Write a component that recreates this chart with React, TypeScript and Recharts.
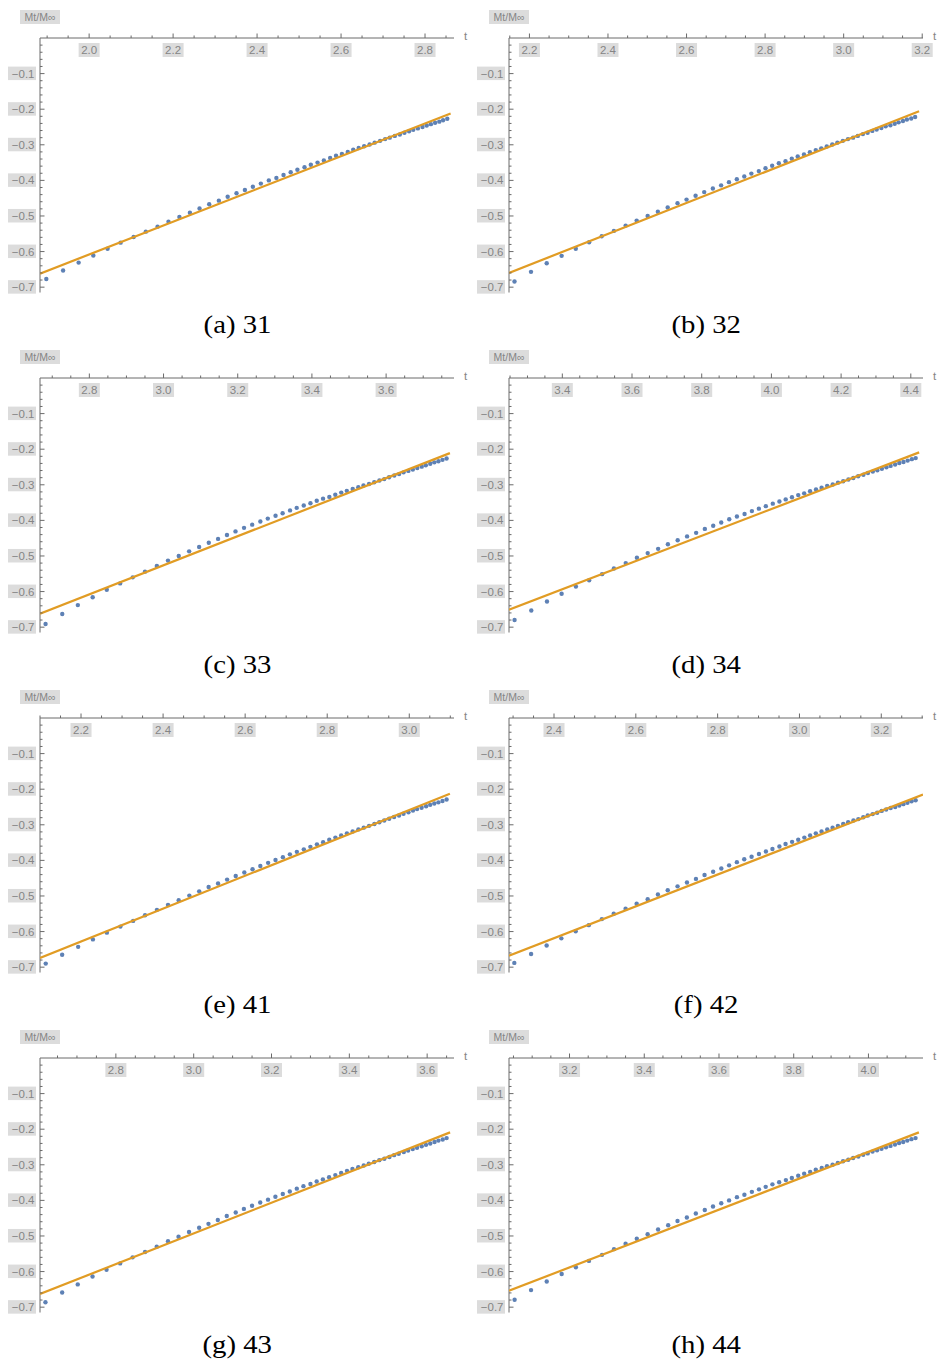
import React from 'react';
import { ComposedChart, Scatter, XAxis, YAxis } from 'recharts';

// Palette (Mathematica-style default series colours)
const DOT_COLOR = '#5E81B5';
const FIT_COLOR = '#E19C24';
const AXIS_COLOR = '#6a6a6a';
const LABEL_COLOR = '#858585';
const LABEL_BG = '#dcdcdc';
const SANS = '"Liberation Sans", Arial, sans-serif';
const SERIF = '"Liberation Serif", "Times New Roman", serif';

const W = 470;
const H = 340;
// axis boxes are 1px thick, so the axis lines land at x = 40, y = 38
const MARGIN = { top: 37, left: 39, right: 16, bottom: 47.5 };

const yDomain: [number, number] = [-0.715, 0];
const yMajor = [-0.1, -0.2, -0.3, -0.4, -0.5, -0.6, -0.7];

// ---- (a) 31 ----
const tA = [1.898, 1.938, 1.975, 2.010, 2.044, 2.075, 2.106, 2.135, 2.163, 2.189,
  2.215, 2.240, 2.263, 2.286, 2.309, 2.330, 2.351, 2.371, 2.390, 2.409,
  2.428, 2.446, 2.463, 2.480, 2.496, 2.513, 2.528, 2.544, 2.559, 2.574,
  2.588, 2.602, 2.616, 2.629, 2.642, 2.655, 2.668, 2.680, 2.693, 2.705,
  2.716, 2.728, 2.740, 2.751, 2.762, 2.772, 2.783, 2.794, 2.804, 2.814,
  2.824, 2.834, 2.843, 2.853];
const yA = [-0.677, -0.653, -0.631, -0.611, -0.592, -0.575, -0.559, -0.544, -0.530, -0.516,
  -0.503, -0.491, -0.479, -0.467, -0.457, -0.446, -0.436, -0.427, -0.418, -0.409,
  -0.400, -0.393, -0.385, -0.377, -0.370, -0.363, -0.356, -0.350, -0.344, -0.337,
  -0.331, -0.326, -0.320, -0.314, -0.309, -0.304, -0.299, -0.294, -0.289, -0.284,
  -0.280, -0.275, -0.271, -0.266, -0.262, -0.258, -0.254, -0.250, -0.246, -0.242,
  -0.238, -0.235, -0.231, -0.227];
const fitTA = [1.883, 2.861];
const fitYA = [-0.662, -0.212];
const xTicksA = [2.0, 2.2, 2.4, 2.6, 2.8];
const domainA: [number, number] = [1.883, 2.869];

// ---- (b) 32 ----
const tB = [2.162, 2.204, 2.244, 2.282, 2.318, 2.352, 2.384, 2.415, 2.445, 2.473,
  2.501, 2.527, 2.552, 2.577, 2.600, 2.623, 2.645, 2.667, 2.688, 2.708,
  2.728, 2.747, 2.765, 2.784, 2.801, 2.818, 2.835, 2.852, 2.868, 2.883,
  2.899, 2.914, 2.929, 2.943, 2.957, 2.971, 2.984, 2.998, 3.011, 3.024,
  3.036, 3.049, 3.061, 3.073, 3.084, 3.096, 3.107, 3.119, 3.130, 3.140,
  3.151, 3.161, 3.172, 3.182];
const yB = [-0.684, -0.657, -0.633, -0.612, -0.592, -0.574, -0.557, -0.542, -0.527, -0.513,
  -0.500, -0.488, -0.476, -0.464, -0.454, -0.443, -0.433, -0.423, -0.414, -0.405,
  -0.397, -0.389, -0.381, -0.374, -0.366, -0.359, -0.352, -0.346, -0.339, -0.333,
  -0.327, -0.321, -0.315, -0.310, -0.305, -0.299, -0.294, -0.289, -0.284, -0.280,
  -0.275, -0.270, -0.266, -0.261, -0.257, -0.253, -0.248, -0.245, -0.241, -0.237,
  -0.233, -0.229, -0.226, -0.222];
const fitTB = [2.148, 3.192];
const fitYB = [-0.660, -0.206];
const xTicksB = [2.2, 2.4, 2.6, 2.8, 3.0, 3.2];
const domainB: [number, number] = [2.148, 3.202];

// ---- (c) 33 ----
const tC = [2.682, 2.727, 2.769, 2.809, 2.847, 2.883, 2.917, 2.950, 2.982, 3.012,
  3.041, 3.069, 3.096, 3.122, 3.147, 3.171, 3.194, 3.217, 3.239, 3.261,
  3.281, 3.302, 3.321, 3.341, 3.359, 3.378, 3.396, 3.413, 3.430, 3.447,
  3.463, 3.479, 3.494, 3.510, 3.525, 3.539, 3.554, 3.568, 3.582, 3.595,
  3.608, 3.622, 3.635, 3.647, 3.660, 3.672, 3.684, 3.696, 3.707, 3.719,
  3.730, 3.741, 3.752, 3.763];
const yC = [-0.691, -0.663, -0.638, -0.616, -0.595, -0.577, -0.560, -0.544, -0.528, -0.513,
  -0.500, -0.487, -0.475, -0.463, -0.452, -0.441, -0.431, -0.421, -0.412, -0.403,
  -0.395, -0.387, -0.380, -0.372, -0.365, -0.358, -0.352, -0.345, -0.339, -0.334,
  -0.328, -0.322, -0.317, -0.312, -0.307, -0.302, -0.298, -0.293, -0.288, -0.284,
  -0.279, -0.274, -0.270, -0.265, -0.261, -0.257, -0.253, -0.249, -0.245, -0.241,
  -0.237, -0.234, -0.230, -0.226];
const fitTC = [2.667, 3.772];
const fitYC = [-0.662, -0.211];
const xTicksC = [2.8, 3.0, 3.2, 3.4, 3.6];
const domainC: [number, number] = [2.667, 3.783];

// ---- (d) 34 ----
const tD = [3.263, 3.311, 3.356, 3.398, 3.439, 3.477, 3.514, 3.548, 3.582, 3.614,
  3.645, 3.675, 3.703, 3.731, 3.758, 3.784, 3.809, 3.833, 3.856, 3.879,
  3.901, 3.923, 3.944, 3.964, 3.984, 4.004, 4.023, 4.041, 4.059, 4.077,
  4.094, 4.111, 4.128, 4.144, 4.160, 4.176, 4.191, 4.206, 4.221, 4.235,
  4.249, 4.264, 4.277, 4.291, 4.304, 4.317, 4.330, 4.342, 4.355, 4.367,
  4.379, 4.391, 4.403, 4.414];
const yD = [-0.680, -0.653, -0.628, -0.606, -0.586, -0.568, -0.551, -0.535, -0.520, -0.505,
  -0.492, -0.480, -0.467, -0.456, -0.445, -0.435, -0.424, -0.415, -0.406, -0.397,
  -0.389, -0.382, -0.374, -0.367, -0.360, -0.353, -0.347, -0.341, -0.335, -0.329,
  -0.324, -0.318, -0.313, -0.308, -0.303, -0.299, -0.294, -0.290, -0.285, -0.281,
  -0.276, -0.272, -0.267, -0.263, -0.259, -0.255, -0.251, -0.247, -0.243, -0.239,
  -0.236, -0.232, -0.228, -0.225];
const fitTD = [3.247, 4.424];
const fitYD = [-0.651, -0.209];
const xTicksD = [3.4, 3.6, 3.8, 4.0, 4.2, 4.4];
const domainD: [number, number] = [3.247, 4.435];

// ---- (e) 41 ----
const tE = [2.114, 2.154, 2.193, 2.229, 2.263, 2.296, 2.327, 2.356, 2.385, 2.412,
  2.438, 2.464, 2.488, 2.511, 2.534, 2.556, 2.577, 2.598, 2.618, 2.637,
  2.656, 2.674, 2.692, 2.709, 2.726, 2.743, 2.759, 2.775, 2.790, 2.805,
  2.820, 2.834, 2.848, 2.862, 2.876, 2.889, 2.902, 2.915, 2.927, 2.939,
  2.951, 2.963, 2.975, 2.986, 2.998, 3.009, 3.019, 3.030, 3.041, 3.051,
  3.061, 3.071, 3.081, 3.091];
const yE = [-0.690, -0.665, -0.643, -0.622, -0.603, -0.586, -0.570, -0.554, -0.539, -0.525,
  -0.512, -0.499, -0.487, -0.475, -0.465, -0.454, -0.444, -0.434, -0.425, -0.416,
  -0.407, -0.399, -0.391, -0.383, -0.376, -0.369, -0.362, -0.355, -0.349, -0.342,
  -0.336, -0.330, -0.324, -0.319, -0.313, -0.308, -0.303, -0.298, -0.293, -0.288,
  -0.283, -0.278, -0.274, -0.269, -0.265, -0.260, -0.256, -0.252, -0.248, -0.244,
  -0.240, -0.237, -0.233, -0.229];
const fitTE = [2.100, 3.099];
const fitYE = [-0.674, -0.213];
const xTicksE = [2.2, 2.4, 2.6, 2.8, 3.0];
const domainE: [number, number] = [2.100, 3.109];

// ---- (f) 42 ----
const tF = [2.303, 2.344, 2.382, 2.418, 2.453, 2.485, 2.517, 2.546, 2.575, 2.602,
  2.629, 2.654, 2.678, 2.702, 2.725, 2.747, 2.768, 2.789, 2.809, 2.828,
  2.847, 2.865, 2.883, 2.901, 2.918, 2.934, 2.951, 2.966, 2.982, 2.997,
  3.012, 3.026, 3.040, 3.054, 3.068, 3.081, 3.094, 3.107, 3.119, 3.132,
  3.144, 3.156, 3.167, 3.179, 3.190, 3.201, 3.212, 3.223, 3.234, 3.244,
  3.254, 3.264, 3.274, 3.284];
const yF = [-0.688, -0.663, -0.639, -0.619, -0.599, -0.582, -0.565, -0.550, -0.536, -0.522,
  -0.509, -0.496, -0.484, -0.473, -0.462, -0.452, -0.441, -0.432, -0.423, -0.414,
  -0.405, -0.397, -0.390, -0.382, -0.375, -0.368, -0.361, -0.354, -0.348, -0.342,
  -0.336, -0.330, -0.324, -0.319, -0.313, -0.308, -0.303, -0.298, -0.293, -0.288,
  -0.284, -0.279, -0.274, -0.270, -0.266, -0.261, -0.257, -0.253, -0.250, -0.246,
  -0.242, -0.238, -0.234, -0.231];
const fitTF = [2.290, 3.302];
const fitYF = [-0.668, -0.215];
const xTicksF = [2.4, 2.6, 2.8, 3.0, 3.2];
const domainF: [number, number] = [2.290, 3.302];

// ---- (g) 43 ----
const tG = [2.619, 2.662, 2.702, 2.740, 2.776, 2.811, 2.843, 2.875, 2.905, 2.934,
  2.961, 2.988, 3.014, 3.038, 3.062, 3.085, 3.108, 3.129, 3.150, 3.171,
  3.191, 3.210, 3.229, 3.247, 3.265, 3.282, 3.300, 3.316, 3.332, 3.348,
  3.364, 3.379, 3.394, 3.408, 3.423, 3.437, 3.450, 3.464, 3.477, 3.490,
  3.503, 3.515, 3.527, 3.540, 3.551, 3.563, 3.574, 3.586, 3.597, 3.608,
  3.619, 3.629, 3.640, 3.650];
const yG = [-0.686, -0.659, -0.636, -0.614, -0.595, -0.577, -0.560, -0.545, -0.530, -0.515,
  -0.502, -0.489, -0.477, -0.466, -0.455, -0.444, -0.434, -0.424, -0.415, -0.406,
  -0.398, -0.390, -0.382, -0.375, -0.367, -0.360, -0.354, -0.347, -0.341, -0.335,
  -0.329, -0.323, -0.317, -0.312, -0.307, -0.302, -0.297, -0.292, -0.287, -0.283,
  -0.278, -0.273, -0.269, -0.264, -0.260, -0.256, -0.252, -0.248, -0.244, -0.240,
  -0.236, -0.232, -0.229, -0.225];
const fitTG = [2.605, 3.659];
const fitYG = [-0.663, -0.209];
const xTicksG = [2.8, 3.0, 3.2, 3.4, 3.6];
const domainG: [number, number] = [2.605, 3.669];

// ---- (h) 44 ----
const tH = [3.053, 3.097, 3.139, 3.179, 3.217, 3.252, 3.287, 3.319, 3.350, 3.380,
  3.409, 3.437, 3.464, 3.489, 3.514, 3.538, 3.562, 3.584, 3.606, 3.627,
  3.648, 3.668, 3.688, 3.707, 3.725, 3.743, 3.761, 3.779, 3.795, 3.812,
  3.828, 3.844, 3.859, 3.875, 3.889, 3.904, 3.918, 3.932, 3.946, 3.959,
  3.973, 3.986, 3.998, 4.011, 4.023, 4.035, 4.047, 4.059, 4.071, 4.082,
  4.093, 4.104, 4.115, 4.126];
const yH = [-0.679, -0.652, -0.628, -0.607, -0.588, -0.570, -0.553, -0.537, -0.522, -0.508,
  -0.495, -0.482, -0.470, -0.458, -0.448, -0.437, -0.427, -0.417, -0.408, -0.400,
  -0.391, -0.384, -0.376, -0.369, -0.362, -0.355, -0.349, -0.343, -0.337, -0.331,
  -0.325, -0.320, -0.314, -0.309, -0.304, -0.300, -0.295, -0.290, -0.286, -0.281,
  -0.277, -0.272, -0.268, -0.263, -0.259, -0.255, -0.251, -0.247, -0.243, -0.239,
  -0.236, -0.232, -0.228, -0.225];
const fitTH = [3.038, 4.135];
const fitYH = [-0.654, -0.209];
const xTicksH = [3.2, 3.4, 3.6, 3.8, 4.0];
const domainH: [number, number] = [3.038, 4.146];

type PanelSpec = {
  caption: string;
  t: number[];
  y: number[];
  fitT: number[];
  fitY: number[];
  xMajor: number[];
  domain: [number, number];
};

const panels: PanelSpec[] = [
  { caption: '(a) 31', t: tA, y: yA, fitT: fitTA, fitY: fitYA, xMajor: xTicksA, domain: domainA },
  { caption: '(b) 32', t: tB, y: yB, fitT: fitTB, fitY: fitYB, xMajor: xTicksB, domain: domainB },
  { caption: '(c) 33', t: tC, y: yC, fitT: fitTC, fitY: fitYC, xMajor: xTicksC, domain: domainC },
  { caption: '(d) 34', t: tD, y: yD, fitT: fitTD, fitY: fitYD, xMajor: xTicksD, domain: domainD },
  { caption: '(e) 41', t: tE, y: yE, fitT: fitTE, fitY: fitYE, xMajor: xTicksE, domain: domainE },
  { caption: '(f) 42', t: tF, y: yF, fitT: fitTF, fitY: fitYF, xMajor: xTicksF, domain: domainF },
  { caption: '(g) 43', t: tG, y: yG, fitT: fitTG, fitY: fitYG, xMajor: xTicksG, domain: domainG },
  { caption: '(h) 44', t: tH, y: yH, fitT: fitTH, fitY: fitYH, xMajor: xTicksH, domain: domainH },
];

// Tick positions on a regular grid inside [lo, hi] (majors plus minor marks).
function gridTicks(lo: number, hi: number, step: number): number[] {
  const out: number[] = [];
  const first = Math.ceil(lo / step - 1e-9);
  const last = Math.floor(hi / step + 1e-9);
  for (let i = first; i <= last; i++) out.push(Number((i * step).toFixed(4)));
  return out;
}

const isMajor = (v: number, majors: number[]) => majors.some((m) => Math.abs(m - v) < 1e-6);

const fmt = (v: number) => (v < 0 ? '\u2212' + Math.abs(v).toFixed(1) : v.toFixed(1));

// Horizontal axis drawn at y = 0 (top): marks point up, labels hang below the line.
const XTick = (props: any) => {
  const { x, y, payload, majors } = props;
  const v = payload.value as number;
  const major = isMajor(v, majors);
  return (
    <g>
      <line x1={x} x2={x} y1={y} y2={y - (major ? 4.5 : 2.5)} stroke={AXIS_COLOR} strokeWidth={1} />
      {major && (
        <g>
          <rect x={x - 10.5} y={y + 5} width={21} height={14} fill={LABEL_BG} />
          <text x={x} y={y + 16} textAnchor="middle" fontSize={11.5} fontFamily={SANS} fill={LABEL_COLOR}>
            {fmt(v)}
          </text>
        </g>
      )}
    </g>
  );
};

// Vertical axis: marks point into the plot, labels on the left in grey boxes.
const YTick = (props: any) => {
  const { x, y, payload } = props;
  const v = payload.value as number;
  const major = isMajor(v, yMajor);
  return (
    <g>
      <line x1={x} x2={x + (major ? 4.5 : 2.5)} y1={y} y2={y} stroke={AXIS_COLOR} strokeWidth={1} />
      {major && (
        <g>
          <rect x={x - 32} y={y - 7} width={28} height={13.5} fill={LABEL_BG} />
          <text x={x - 5.5} y={y + 4} textAnchor="end" fontSize={11.5} fontFamily={SANS} fill={LABEL_COLOR}>
            {fmt(v)}
          </text>
        </g>
      )}
    </g>
  );
};

const DotShape = (props: any) => <circle cx={props.cx} cy={props.cy} r={2.2} fill={DOT_COLOR} />;
const NoShape = () => <g />;

function Panel({ spec }: { spec: PanelSpec }) {
  const points = spec.t.map((t, i) => ({ t, y: spec.y[i] }));
  const fit = spec.fitT.map((t, i) => ({ t, y: spec.fitY[i] }));
  const xTicks = gridTicks(spec.domain[0], spec.domain[1], 0.05);
  const yTicks = gridTicks(yDomain[0], yDomain[1], 0.02).filter((v) => v < -0.001);
  return (
    <ComposedChart width={W} height={H} margin={MARGIN}>
      <XAxis
        type="number"
        dataKey="t"
        orientation="top"
        domain={spec.domain}
        allowDataOverflow
        ticks={xTicks}
        interval={0}
        height={1}
        tickSize={0}
        tickMargin={0}
        tickLine={false}
        axisLine={{ stroke: AXIS_COLOR, strokeWidth: 1 }}
        tick={(p: any) => <XTick {...p} majors={spec.xMajor} />}
      />
      <YAxis
        type="number"
        dataKey="y"
        domain={yDomain}
        allowDataOverflow
        ticks={yTicks}
        interval={0}
        width={1}
        tickSize={0}
        tickMargin={0}
        tickLine={false}
        axisLine={{ stroke: AXIS_COLOR, strokeWidth: 1 }}
        tick={(p: any) => <YTick {...p} />}
      />
      <Scatter data={points} fill={DOT_COLOR} shape={DotShape} isAnimationActive={false} />
      <Scatter
        data={fit}
        fill={FIT_COLOR}
        line={{ stroke: FIT_COLOR, strokeWidth: 2.2 }}
        shape={NoShape}
        isAnimationActive={false}
      />
    </ComposedChart>
  );
}

export default function App() {
  return (
    <div
      style={{
        position: 'absolute',
        left: 0,
        top: 0,
        width: 939,
        height: 1368,
        background: '#ffffff',
        overflow: 'hidden',
      }}
    >
      {panels.map((p, i) => {
        const col = i % 2;
        const row = Math.floor(i / 2);
        return (
          <div
            key={p.caption}
            style={{ position: 'absolute', left: col === 0 ? 0 : 469, top: row * 340, width: W, height: H }}
          >
            <Panel spec={p} />
            <div
              style={{
                position: 'absolute',
                left: 20,
                top: 10,
                width: 40,
                height: 14,
                background: LABEL_BG,
                color: LABEL_COLOR,
                fontFamily: SANS,
                fontSize: 10.5,
                lineHeight: '14px',
                textAlign: 'center',
                whiteSpace: 'nowrap',
              }}
            >
              Mt/M∞
            </div>
            <div
              style={{
                position: 'absolute',
                left: 464,
                top: 29,
                color: LABEL_COLOR,
                fontFamily: SANS,
                fontSize: 11.5,
                lineHeight: '14px',
              }}
            >
              t
            </div>
            <div
              style={{
                position: 'absolute',
                left: 0,
                top: 312,
                width: 474,
                textAlign: 'center',
                fontFamily: SERIF,
                fontSize: 25,
                lineHeight: '25px',
                color: '#000',
                whiteSpace: 'nowrap',
              }}
            >
              <span style={{ display: 'inline-block', transform: 'scaleX(1.15)' }}>{p.caption}</span>
            </div>
          </div>
        );
      })}
    </div>
  );
}
